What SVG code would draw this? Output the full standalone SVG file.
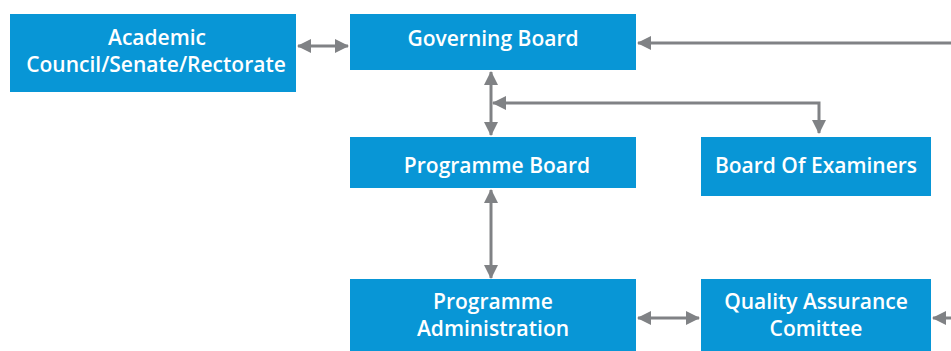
<svg xmlns="http://www.w3.org/2000/svg" width="951" height="351" viewBox="0 0 951 351">
<defs>
<style>
.box{fill:#0896d6}
.t{font-family:"Open Sans","Noto Sans",sans-serif;font-weight:600;font-size:21px;fill:#ffffff;text-anchor:middle}
.c{stroke:#808285;stroke-width:3;fill:none}
</style>
<marker id="ah" markerUnits="userSpaceOnUse" markerWidth="14" markerHeight="14" viewBox="0 0 14 14" refX="13" refY="7" orient="auto-start-reverse">
<path d="M0,0 L14,7 L0,14 Z" fill="#808285"/>
</marker>
</defs>
<rect width="951" height="351" fill="#ffffff"/>
<g id="connectors">
<line class="c" x1="298" y1="46" x2="348" y2="46" marker-start="url(#ah)" marker-end="url(#ah)"/>
<line class="c" x1="951" y1="43" x2="638" y2="43" marker-end="url(#ah)"/>
<line class="c" x1="491" y1="72" x2="491" y2="135" marker-start="url(#ah)" marker-end="url(#ah)"/>
<polyline class="c" points="819,133 819,103 493,103" marker-start="url(#ah)" marker-end="url(#ah)"/>
<line class="c" x1="491" y1="190" x2="491" y2="278" marker-start="url(#ah)" marker-end="url(#ah)"/>
<line class="c" x1="638" y1="318" x2="699" y2="318" marker-start="url(#ah)" marker-end="url(#ah)"/>
<line class="c" x1="951" y1="318" x2="933" y2="318" marker-end="url(#ah)"/>
</g>
<g id="academic">
<rect class="box" x="10" y="14" width="286" height="78"/>
<text class="t" x="157" y="45">Academic</text>
<text class="t" x="156" y="72">Council/Senate/Rectorate</text>
</g>
<g id="governing">
<rect class="box" x="350" y="14" width="286" height="56"/>
<text class="t" x="493" y="46">Governing Board</text>
</g>
<g id="programme-board">
<rect class="box" x="350" y="137" width="286" height="51"/>
<text class="t" x="497" y="173">Programme Board</text>
</g>
<g id="examiners">
<rect class="box" x="701" y="137" width="230" height="59"/>
<text class="t" x="816" y="173">Board Of Examiners</text>
</g>
<g id="programme-admin">
<rect class="box" x="350" y="279" width="286" height="72"/>
<text class="t" x="493" y="309">Programme</text>
<text class="t" x="493" y="336">Administration</text>
</g>
<g id="qa">
<rect class="box" x="701" y="279" width="230" height="72"/>
<text class="t" x="816" y="309">Quality Assurance</text>
<text class="t" x="816" y="336">Comittee</text>
</g>
</svg>
